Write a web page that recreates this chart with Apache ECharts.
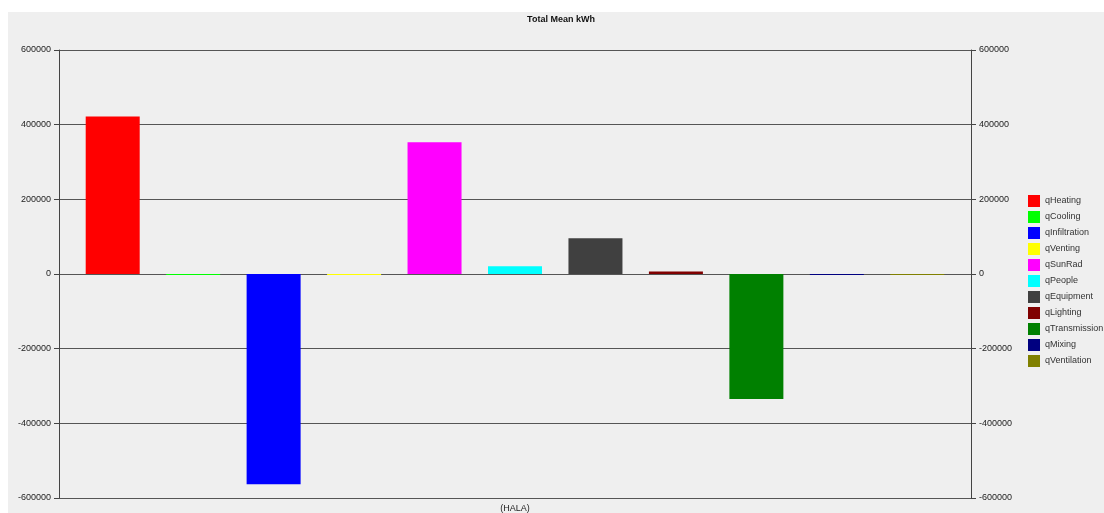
<!DOCTYPE html>
<html><head><meta charset="utf-8">
<script src="https://cdn.jsdelivr.net/npm/echarts@6/dist/echarts.min.js"></script>
<style>html,body{margin:0;padding:0;background:#fff}#c{width:1104px;height:513px}</style>
</head><body><div id="c"></div>
<script>
const categories = ['(HALA)'];
const seriesNames = ['qHeating','qCooling','qInfiltration','qVenting','qSunRad','qPeople','qEquipment','qLighting','qTransmission','qMixing','qVentilation'];
const seriesValues = [422000, -1500, -563000, -1500, 353000, 21000, 96000, 7000, -335000, -1500, -1500];
const seriesColors = ['#ff0000','#00ff00','#0000ff','#ffff00','#ff00ff','#00ffff','#404040','#800000','#008000','#000080','#808000'];
const yTicks = [-600000, -400000, -200000, 0, 200000, 400000, 600000];

const chart = echarts.init(document.getElementById('c'));
const font = 'Liberation Sans, Arial, sans-serif';
const yAxisCommon = {
  type: 'value', min: yTicks[0], max: yTicks[yTicks.length-1], interval: 200000,
  axisLine: {show: true, lineStyle: {color: '#444', width: 1}},
  axisTick: {show: true, length: 5, lineStyle: {color: '#444'}},
  axisLabel: {fontFamily: font, fontSize: 9, color: '#222', margin: 8, formatter: v => String(v)},
  splitLine: {show: true, lineStyle: {color: '#555', width: 1}}
};
chart.setOption({
  animation: false,
  backgroundColor: '#fff',
  graphic: [{type: 'rect', z: -10, shape: {x: 8, y: 12, width: 1096, height: 501}, style: {fill: '#efefef'}}],
  title: {text: 'Total Mean kWh', left: 561, top: 15, padding: 0, textAlign: 'center',
    textStyle: {fontFamily: font, fontSize: 9, fontWeight: 'bold', color: '#111'}},
  legend: {orient: 'vertical', left: 1028, top: 195, padding: 0, itemWidth: 12, itemHeight: 12, itemGap: 4,
    icon: 'rect', textStyle: {fontFamily: font, fontSize: 9, color: '#333'},
    data: seriesNames},
  grid: {left: 59, right: 133, top: 50, bottom: 12, containLabel: false},
  xAxis: {type: 'category', data: categories,
    axisLine: {show: false, onZero: false}, axisTick: {show: false},
    axisLabel: {fontFamily: font, fontSize: 9, color: '#222', margin: 6}},
  yAxis: [Object.assign({position: 'left'}, yAxisCommon), Object.assign({position: 'right'}, yAxisCommon, {splitLine: {show: false}})],
  series: seriesNames.map((n, i) => ({
    name: n, type: 'bar', data: [seriesValues[i]], barWidth: 54, barGap: '49%', barMinHeight: 1,
    itemStyle: {color: seriesColors[i]}
  }))
});
</script></body></html>
